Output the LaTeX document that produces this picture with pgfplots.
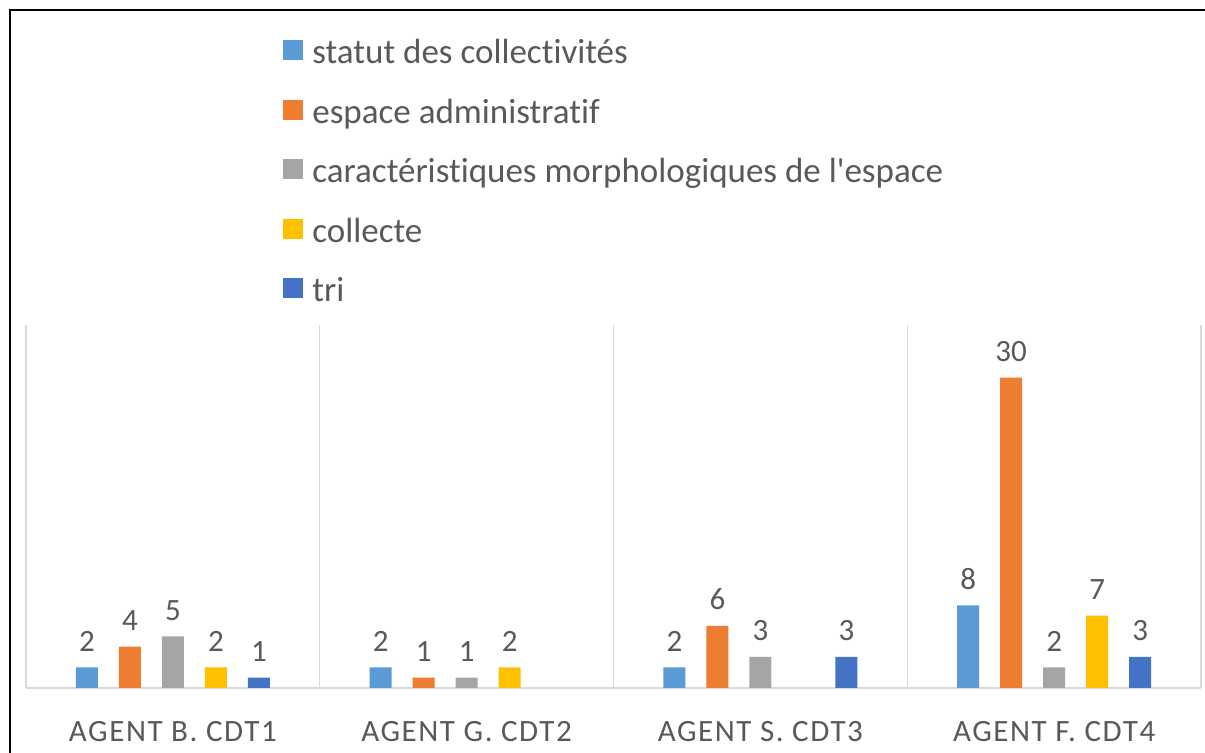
\documentclass[border=0pt]{standalone}
\usepackage{fontspec}
\newfontfamily\carl{Carlito}[Ligatures=NoCommon]
\usepackage{pgfplots}
\pgfplotsset{compat=1.18}
\definecolor{c1}{HTML}{5B9BD5}
\definecolor{c2}{HTML}{ED7D31}
\definecolor{c3}{HTML}{A5A5A5}
\definecolor{c4}{HTML}{FFC000}
\definecolor{c5}{HTML}{4472C4}
\definecolor{txt}{HTML}{595959}
\definecolor{gridc}{HTML}{D9D9D9}
\begin{document}
\begin{tikzpicture}
\useasboundingbox (0,0) rectangle (602.5pt,376.5pt);
\fill[white] (0,0) rectangle (602.5pt,376.5pt);
\begin{axis}[
  at={(13pt,32.5pt)}, anchor=south west,
  width=587.5pt, height=181.5pt, scale only axis,
  xmin=-0.5, xmax=3.5, ymin=0, ymax=35.1,
  ybar=10.5pt, bar width=11pt,
  hide y axis,
  axis x line*=bottom,
  x axis line style={-, draw=gridc, line width=0.6pt},
  xtick={0,1,2,3},
  xticklabels={AGENT B. CDT1, AGENT G. CDT2, AGENT S. CDT3, AGENT F. CDT4},
  major tick length=0pt,
  xticklabel style={font=\carl\fontsize{15.5}{18}\selectfont\addfontfeatures{LetterSpace=5}, text=txt, anchor=base, yshift=-27pt},
  extra x ticks={-0.5,0.5,1.5,2.5,3.5},
  extra x tick labels={},
  extra x tick style={grid=major, major grid style={draw=gridc, line width=0.6pt}, major tick length=0pt},
  /pgf/number format/assume math mode=true,
  nodes near coords,
  every node near coord/.append style={font=\carl\fontsize{15.5}{18}\selectfont, text=txt, anchor=base, yshift=8pt, inner sep=0pt},
  legend style={at={(0.2187,1.7907)}, anchor=north west, draw=none, fill=none,
    font=\carl\fontsize{17.5}{21}\selectfont, inner sep=0pt, row sep=13.15pt,
    nodes={inner sep=0pt, text=txt, text height=12.6pt, text depth=4pt},
    /tikz/every odd column/.style={column sep=4.5pt}},
  legend cell align=left,
  legend image code/.code={\fill[#1] (0pt,-2.75pt) rectangle (10pt,7.25pt);},
]
\addplot[fill=c1, draw=none] coordinates {(0,2) (1,2) (2,2) (3,8)};
\addplot[fill=c2, draw=none] coordinates {(0,4) (1,1) (2,6) (3,30)};
\addplot[fill=c3, draw=none] coordinates {(0,5) (1,1) (2,3) (3,2)};
\addplot[fill=c4, draw=none] coordinates {(0,2) (1,2) (3,7)};
\addplot[fill=c5, draw=none] coordinates {(0,1) (2,3) (3,3)};
\legend{statut des collectivités, espace administratif, caractéristiques morphologiques de l'espace, collecte, tri}
\end{axis}
\draw[line width=1.2pt] (5pt,0) -- (5pt,371.5pt) -- (604pt,371.5pt);
\end{tikzpicture}
\end{document}
